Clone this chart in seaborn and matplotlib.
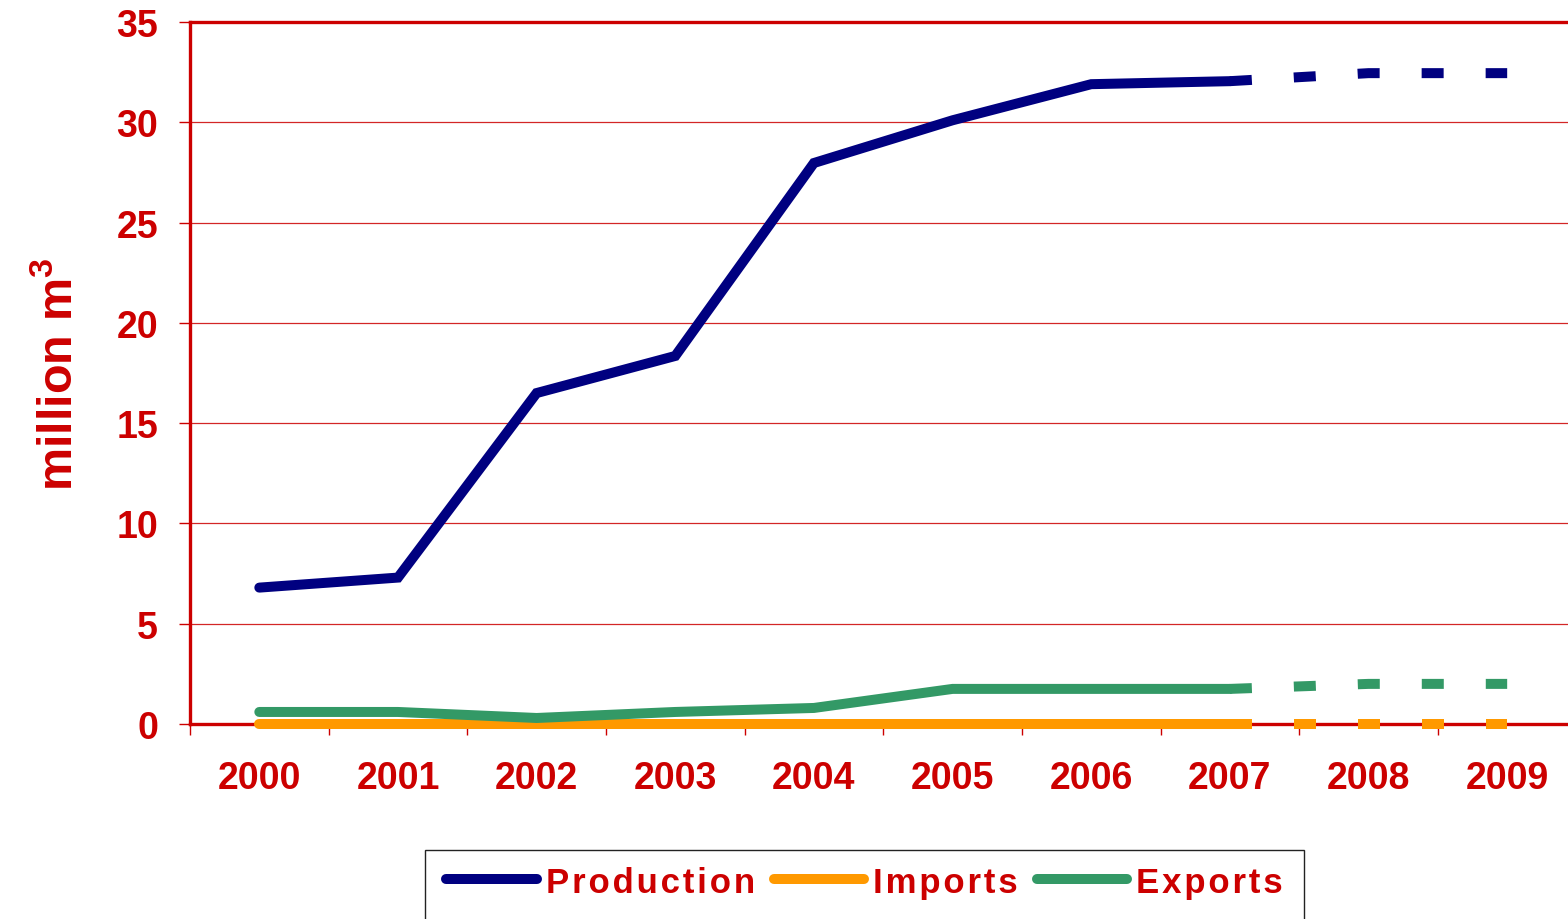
import matplotlib
matplotlib.use("Agg")
import matplotlib.pyplot as plt
import matplotlib.patches as mpatches
import seaborn as sns
import pandas as pd
from matplotlib.lines import Line2D

years = ["2000", "2001", "2002", "2003", "2004", "2005", "2006", "2007", "2008", "2009"]
production = [6.8, 7.3, 16.5, 18.35, 27.97, 30.1, 31.9, 32.05, 32.45, 32.45]
imports = [0, 0, 0, 0, 0, 0, 0, 0, 0, 0]
exports = [0.6, 0.6, 0.3, 0.6, 0.8, 1.75, 1.75, 1.75, 2.0, 2.0]
series_names = ["Production", "Imports", "Exports"]
colors = ["#000080", "#FF9900", "#339966"]
last_actual = 7  # index of 2007; later years are projections (dashed)

red = "#CC0000"

sns.set_theme(style="white")
plt.rcParams["font.family"] = ["Liberation Sans", "DejaVu Sans"]
plt.rcParams["font.weight"] = "bold"
plt.rcParams["mathtext.fontset"] = "custom"
plt.rcParams["mathtext.rm"] = "Liberation Sans:bold"
plt.rcParams["mathtext.bf"] = "Liberation Sans:bold"

rows = []
for name, vals in zip(series_names, [production, imports, exports]):
    for i, (y, v) in enumerate(zip(years, vals)):
        rows.append({"x": i, "year": y, "value": v, "series": name,
                     "actual": i <= last_actual, "proj": i >= last_actual})
df = pd.DataFrame(rows)

fig = plt.figure(figsize=(15.68, 9.2), dpi=100)
ax = fig.add_axes([190 / 1568, 1 - 725 / 920, (1576.5 - 190) / 1568, (725 - 23) / 920])

palette = dict(zip(series_names, colors))
sns.lineplot(data=df[df["actual"]], x="x", y="value", hue="series", palette=palette,
             hue_order=series_names, linewidth=7.2, ax=ax, legend=False,
             sort=False)
for line in ax.get_lines():
    line.set_solid_capstyle("round")
    line.set_solid_joinstyle("miter")
n_solid = len(ax.get_lines())
sns.lineplot(data=df[df["proj"]], x="x", y="value", hue="series", palette=palette,
             hue_order=series_names, linewidth=7.2, ax=ax, legend=False,
             sort=False)
for line in ax.get_lines()[n_solid:]:
    line.set_dashes((2.2, 4.2))
    line.set_dash_capstyle("butt")
for line in ax.get_lines():
    line.set_zorder(5)
    line.set_clip_on(False)

ax.set_xlim(-0.5, 9.5)
ax.set_ylim(0, 35)
ax.set_yticks(range(0, 36, 5))
ax.set_xticks(range(len(years)))
ax.set_xticklabels(years)
ax.set_xticks([i + 0.5 for i in range(-1, len(years))], minor=True)

ax.grid(axis="y", color=red, linewidth=0.9, alpha=0.85)
ax.set_axisbelow(True)
for side in ["left", "bottom", "top", "right"]:
    ax.spines[side].set_color(red)
    ax.spines[side].set_linewidth(2.4)
    ax.spines[side].set_visible(True)

ax.tick_params(axis="y", which="major", direction="out", length=8, width=1,
               color=red, labelcolor=red, labelsize=27, pad=15, left=True)
ax.tick_params(axis="x", which="major", length=0, labelcolor=red,
               labelsize=27, pad=26)
ax.tick_params(axis="x", which="minor", direction="out", length=8, width=1,
               color=red, bottom=True)
for lbl in ax.get_xticklabels() + ax.get_yticklabels():
    lbl.set_fontweight("bold")

ax.set_xlabel("")
ax.set_ylabel(r"million m$^{\mathbf{3}}$", color=red, fontsize=35, fontweight="bold",
              labelpad=24)

# legend frame (extends past the bottom edge as in the reference)
frame = mpatches.Rectangle((425 / 1568, 1 - 940 / 920), (1304 - 425) / 1568, 89 / 920,
                           transform=fig.transFigure, fill=False,
                           edgecolor="#222222", linewidth=1.0, clip_on=False)
fig.add_artist(frame)

handles = [Line2D([0], [0], color=c, lw=7.2, solid_capstyle="round") for c in colors]
spaced = ["\u200a".join(s) for s in series_names]
leg = fig.legend(handles, spaced, loc="upper center",
                 bbox_to_anchor=(864.5 / 1568, 1 - 851 / 920), ncol=3,
                 frameon=False, handlelength=2.6,
                 handletextpad=0.26, columnspacing=0.55, borderpad=0.45,
                 borderaxespad=0,
                 prop={"family": ["Liberation Sans", "DejaVu Sans"],
                       "weight": "bold", "size": 25})
for t in leg.get_texts():
    t.set_color(red)

fig.savefig("out.png", dpi=100)
